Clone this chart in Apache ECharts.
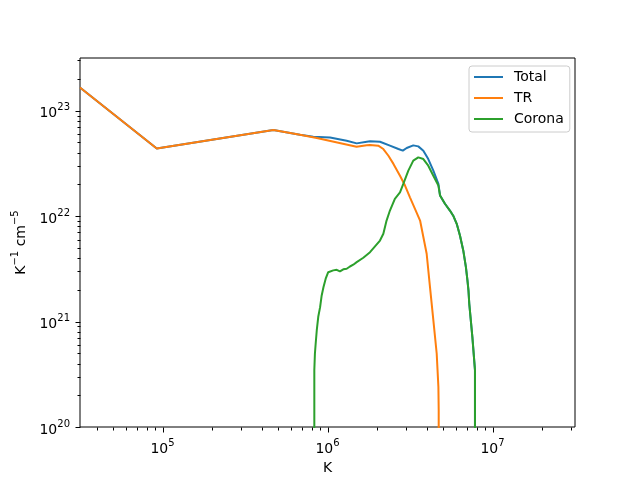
<!DOCTYPE html>
<html>
<head>
<meta charset="utf-8">
<script src="https://cdn.jsdelivr.net/npm/echarts@6/dist/echarts.min.js"></script>
<style>
html, body { margin: 0; padding: 0; background: #fff; }
#chart { width: 640px; height: 480px; }
</style>
</head>
<body>
<div id="chart"></div>
<script>
// temperature (K) and emission measure values
var tempTotal = [3.16e4, 9.23e4, 4.70e5, 6.81e5, 8.20e5, 1.036e6, 1.307e6, 1.503e6, 1.73e6, 1.81e6, 2.08e6, 2.39e6, 2.69e6, 2.86e6, 3.02e6, 3.31e6, 3.55e6, 3.81e6, 4.08e6, 4.38e6, 4.70e6, 4.81e6, 5.15e6, 5.52e6, 5.78e6, 6.07e6, 6.35e6, 6.65e6, 6.90e6, 7.05e6, 7.15e6, 7.23e6, 7.55e6, 7.83e6, 7.85e6];
var emTotal   = [1.66e23, 4.39e22, 6.55e22, 5.92e22, 5.66e22, 5.58e22, 5.19e22, 4.90e22, 5.08e22, 5.12e22, 5.08e22, 4.66e22, 4.33e22, 4.18e22, 4.43e22, 4.69e22, 4.59e22, 4.18e22, 3.48e22, 2.70e22, 2.02e22, 1.57e22, 1.31e22, 1.13e22, 1.01e22, 8.45e21, 6.55e21, 4.73e21, 3.29e21, 2.46e21, 1.98e21, 1.48e21, 7.15e20, 3.46e20, 1e10];

var tempTR = [3.16e4, 9.23e4, 4.70e5, 6.81e5, 8.61e5, 1.50e6, 1.73e6, 1.81e6, 2.03e6, 2.18e6, 2.34e6, 2.51e6, 2.75e6, 2.95e6, 3.16e6, 3.39e6, 3.64e6, 3.99e6, 4.18e6, 4.38e6, 4.59e6, 4.70e6, 4.72e6, 4.73e6];
var emTR   = [1.66e23, 4.39e22, 6.55e22, 5.92e22, 5.51e22, 4.55e22, 4.70e22, 4.73e22, 4.66e22, 4.33e22, 3.74e22, 3.13e22, 2.42e22, 1.95e22, 1.51e22, 1.17e22, 9.08e21, 4.40e21, 2.12e21, 1.03e21, 4.98e20, 2.40e20, 1.45e20, 1e10];

var tempCorona = [8.32e5, 8.32e5, 8.39e5, 8.48e5, 8.61e5, 8.79e5, 9.02e5, 9.22e5, 9.45e5, 9.75e5, 1.01e6, 1.036e6, 1.084e6, 1.137e6, 1.19e6, 1.247e6, 1.307e6, 1.368e6, 1.433e6, 1.503e6, 1.648e6, 1.81e6, 2.08e6, 2.18e6, 2.28e6, 2.39e6, 2.56e6, 2.75e6, 2.88e6, 3.09e6, 3.31e6, 3.55e6, 3.81e6, 4.08e6, 4.38e6, 4.70e6, 4.81e6, 5.15e6, 5.52e6, 5.78e6, 6.07e6, 6.35e6, 6.65e6, 6.90e6, 7.05e6, 7.15e6, 7.23e6, 7.55e6, 7.83e6, 7.85e6];
var emCorona   = [1e10, 3.46e20, 4.98e20, 6.2e20, 8.28e20, 1.11e21, 1.37e21, 1.77e21, 2.12e21, 2.55e21, 2.94e21, 2.95e21, 3.06e21, 3.10e21, 2.99e21, 3.13e21, 3.17e21, 3.33e21, 3.46e21, 3.66e21, 4.03e21, 4.55e21, 5.87e21, 6.80e21, 9.08e21, 1.13e22, 1.46e22, 1.68e22, 2.02e22, 2.70e22, 3.36e22, 3.61e22, 3.48e22, 3.01e22, 2.42e22, 1.95e22, 1.57e22, 1.31e22, 1.13e22, 1.01e22, 8.45e21, 6.55e21, 4.73e21, 3.29e21, 2.46e21, 1.98e21, 1.48e21, 7.15e20, 3.46e20, 1e10];

var seriesNames = ['Total', 'TR', 'Corona'];
var colors = ['#1f77b4', '#ff7f0e', '#2ca02c'];

var xMin = Math.pow(10, 4.5), xMax = Math.pow(10, 7.5);
var yMin = 1e20, yMax = Math.pow(10, 23.5);
var font = 'DejaVu Sans';

function pairs(xs, ys) {
    return xs.map(function (x, i) { return [x, ys[i]]; });
}

// axis ticks, major at decades and minor at 2..9
var ticks = [];
for (var e = 4; e <= 7; e++) {
    for (var m = 1; m <= 9; m++) {
        var v = m * Math.pow(10, e);
        if (v >= xMin && v <= xMax) ticks.push([v, yMin, 0, m === 1 ? 5 : 3]);
    }
}
for (var e2 = 20; e2 <= 23; e2++) {
    for (var m2 = 1; m2 <= 9; m2++) {
        var v2 = m2 * Math.pow(10, e2);
        if (v2 >= yMin && v2 <= yMax) ticks.push([xMin, v2, 1, m2 === 1 ? 5 : 3]);
    }
}

function powLabel(v) {
    var lg = Math.log10(v), n = Math.round(lg);
    if (Math.abs(lg - n) > 1e-6) return '';
    return '{b|10}{s|' + n + '}';
}
var labelRich = {
    b: { fontFamily: font, fontSize: 14, color: '#000', padding: [6, 0, 0, 0] },
    s: { fontFamily: font, fontSize: 10, color: '#000', padding: [0, 0, 6, 0] }
};

var myChart = echarts.init(document.getElementById('chart'));
myChart.setOption({
    animation: false,
    color: colors,
    grid: {
        left: 80, right: 65, top: 58, bottom: 53,
        containLabel: false,
        show: true, borderColor: '#000', borderWidth: 1
    },
    legend: {
        data: seriesNames,
        orient: 'vertical',
        left: 469, top: 66,
        icon: 'rect', itemWidth: 29, itemHeight: 2, itemGap: 7,
        padding: [4, 6, 6, 5],
        borderColor: '#cccccc', borderWidth: 1, borderRadius: 3,
        backgroundColor: 'rgba(255,255,255,0.8)',
        textStyle: { fontFamily: font, fontSize: 14, color: '#000', padding: [0, 0, 0, 6] }
    },
    xAxis: {
        type: 'log', logBase: 10, min: xMin, max: xMax,
        axisLine: { show: false }, axisTick: { show: false }, splitLine: { show: false },
        axisLabel: { margin: 9, showMinLabel: false, showMaxLabel: false, formatter: powLabel, rich: labelRich },
        name: 'K', nameLocation: 'middle', nameGap: 32,
        nameTextStyle: { fontFamily: font, fontSize: 14, color: '#000' }
    },
    yAxis: {
        type: 'log', logBase: 10, min: yMin, max: yMax,
        axisLine: { show: false }, axisTick: { show: false }, splitLine: { show: false },
        axisLabel: { margin: 10, showMaxLabel: false, formatter: powLabel, rich: labelRich },
        name: '{b|K}{s|\u22121}{b| cm}{s|\u22125}', nameLocation: 'middle', nameGap: 44, nameRotate: 90,
        nameTextStyle: { fontFamily: font, fontSize: 14, color: '#000', rich: labelRich }
    },
    series: [
        {
            name: 'Total', type: 'line', data: pairs(tempTotal, emTotal),
            showSymbol: false, lineStyle: { width: 2 }, clip: true
        },
        {
            name: 'TR', type: 'line', data: pairs(tempTR, emTR),
            showSymbol: false, lineStyle: { width: 2 }, clip: true
        },
        {
            name: 'Corona', type: 'line', data: pairs(tempCorona, emCorona),
            showSymbol: false, lineStyle: { width: 2 }, clip: true
        },
        {
            type: 'custom', silent: true, z: 10, data: ticks,
            renderItem: function (params, api) {
                var p = api.coord([api.value(0), api.value(1)]);
                var len = api.value(3);
                var x = Math.round(p[0]) + 0.5, y = Math.round(p[1]) + 0.5;
                var shape = api.value(2) === 1
                    ? { x1: x, y1: y, x2: x - len, y2: y }
                    : { x1: x, y1: y, x2: x, y2: y + len };
                return { type: 'line', shape: shape, style: { stroke: '#000', lineWidth: 1 } };
            }
        }
    ]
});
</script>
</body>
</html>
